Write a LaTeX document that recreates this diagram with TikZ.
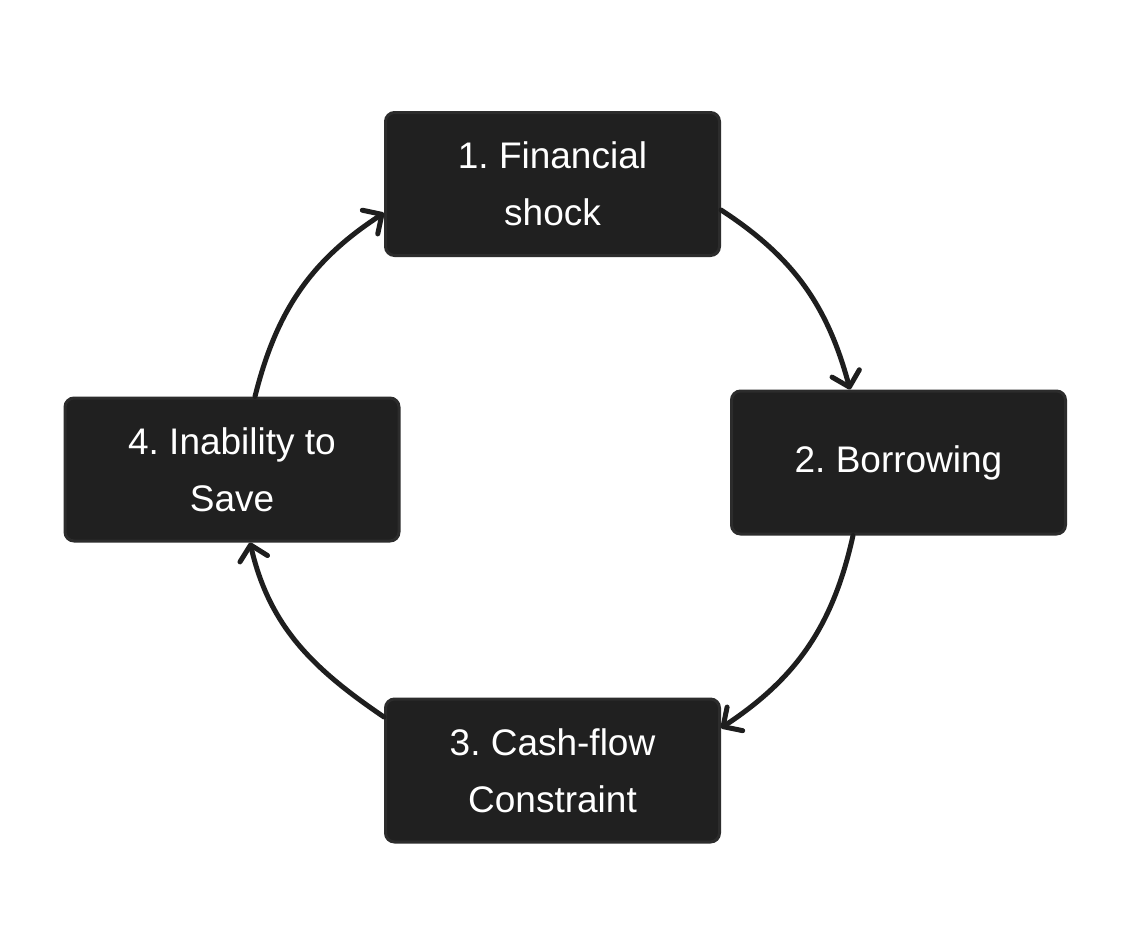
\documentclass[tikz,border=0pt]{standalone}
\usepackage{fontspec}
\setmainfont{Liberation Sans}
\frenchspacing
\usetikzlibrary{arrows.meta}
\definecolor{boxfill}{HTML}{202020}
\definecolor{boxline}{HTML}{2C2C2C}
\definecolor{linecol}{HTML}{1E1E1E}
\tikzset{
  stepbox/.style={draw=boxline, line width=3pt, fill=boxfill, rounded corners=9pt,
    minimum width=334pt, minimum height=143pt, inner sep=0pt,
    text=white, align=center, font=\fontsize{37}{57}\selectfont},
  cyc/.style={draw=linecol, line width=5pt, line cap=round,
    -{Straight Barb[angle=90:20pt, round]}},
}
\begin{document}
\begin{tikzpicture}[x=1pt,y=-1pt]
\useasboundingbox[fill=white] (0,0) rectangle (1126,926);
\node[stepbox] (n1) at (552.5,184) {1. Financial\\shock};
\node[stepbox] (n2) at (898.5,462.5) {2. Borrowing};
\node[stepbox] (n3) at (552.5,770.5) {3. Cash-flow\\Constraint};
\node[stepbox] (n4) at (232,469.5) {4. Inability to\\Save};
\draw[cyc] ([yshift=-26pt]n1.east) to[out=-33,in=105] ([xshift=-48.5pt]n2.north);
\draw[cyc] ([xshift=-45.5pt]n2.south) to[out=-102.5,in=33.4] ([yshift=42.5pt]n3.east);
\draw[cyc] ([yshift=53.5pt]n3.west) to[out=145.8,in=-77] ([xshift=18pt]n4.south);
\draw[cyc] ([xshift=23pt]n4.north) to[out=76,in=-147] ([yshift=-29pt]n1.west);
\end{tikzpicture}
\end{document}
